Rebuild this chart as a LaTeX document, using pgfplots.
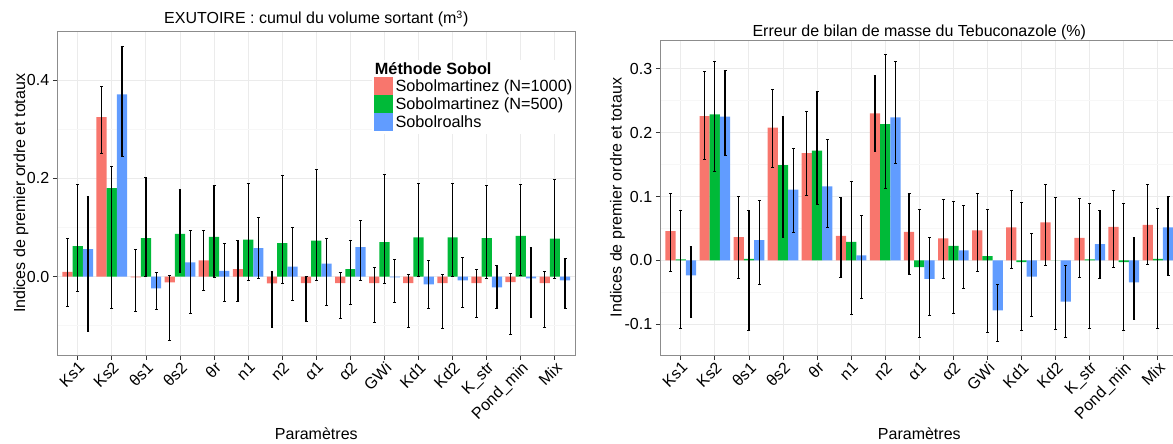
\documentclass[border=0pt]{standalone}
\usepackage{fontspec}
\setmainfont{Liberation Sans}
\usepackage{pgfplots}
\usepackage{pgfplotstable}
\pgfplotsset{compat=1.18}
\definecolor{cR}{HTML}{F8766D}
\definecolor{cG}{HTML}{00BA38}
\definecolor{cB}{HTML}{619CFF}
\definecolor{gmaj}{HTML}{EBEBEB}
\definecolor{gmin}{HTML}{F7F7F7}
\definecolor{gborder}{HTML}{8C8C8C}
\definecolor{gtick}{HTML}{333333}

\pgfplotstableread{
x v lo hi
1 0.0095 -0.061 0.077
2 0.325 0.250 0.388
3 -0.002 -0.071 0.056
4 -0.012 -0.131 0.003
5 0.033 -0.028 0.094
6 0.015 -0.051 0.073
7 -0.014 -0.104 0.011
8 -0.0135 -0.092 0.001
9 -0.0135 -0.085 0.008
10 -0.0135 -0.093 0.019
11 -0.0135 -0.104 0.005
12 -0.0135 -0.105 0.005
13 -0.0135 -0.083 0.0135
14 -0.0115 -0.117 0.006
15 -0.0135 -0.103 0.011
}\LR
\pgfplotstableread{
x v lo hi
1 0.062 -0.031 0.187
2 0.180 -0.066 0.225
3 0.078 0.000 0.203
4 0.087 0.009 0.178
5 0.081 -0.002 0.186
6 0.075 -0.0075 0.190
7 0.068 -0.015 0.207
8 0.073 -0.0075 0.218
9 0.015 -0.057 0.073
10 0.070 -0.015 0.208
11 0.080 0.000 0.190
12 0.080 0.000 0.190
13 0.078 -0.003 0.185
14 0.083 0.003 0.188
15 0.077 -0.003 0.198
}\LG
\pgfplotstableread{
x v lo hi
1 0.056 -0.111 0.163
2 0.371 0.245 0.470
3 -0.024 -0.067 0.009
4 0.029 -0.075 0.094
5 0.0115 -0.051 0.068
6 0.058 -0.004 0.121
7 0.020 -0.048 0.101
8 0.026 -0.058 0.077
9 0.060 -0.0075 0.115
10 -0.002 -0.052 0.034
11 -0.016 -0.065 0.033
12 -0.008 -0.062 0.039
13 -0.022 -0.066 0.023
14 -0.004 -0.083 0.059
15 -0.008 -0.064 0.036
}\LB
\pgfplotstableread{
x v lo hi
1 0.0458 -0.0177 0.105
2 0.226 0.158 0.296
3 0.0365 -0.0286 0.100
4 0.208 0.145 0.268
5 0.168 0.1016 0.234
6 0.0385 -0.026 0.099
7 0.230 0.171 0.290
8 0.0448 -0.0214 0.1047
9 0.0344 -0.028 0.0958
10 0.0469 -0.0177 0.1047
11 0.0516 -0.012 0.110
12 0.0594 -0.0073 0.119
13 0.0354 -0.026 0.0964
14 0.0526 -0.0115 0.110
15 0.0557 -0.006 0.119
}\RR
\pgfplotstableread{
x v lo hi
1 0.0016 -0.107 0.079
2 0.2286 0.139 0.311
3 0.0026 -0.110 0.078
4 0.149 0.0354 0.2255
5 0.172 0.0875 0.264
6 0.029 -0.085 0.123
7 0.2135 0.113 0.322
8 -0.0104 -0.121 0.080
9 0.0229 -0.083 0.092
10 0.0068 -0.1125 0.080
11 -0.0026 -0.109 0.0906
12 0.0 -0.108 0.099
13 0.0016 -0.1057 0.089
14 -0.0026 -0.110 0.089
15 0.0026 -0.107 0.0818
}\RG
\pgfplotstableread{
x v lo hi
1 -0.0234 -0.0896 0.0219
2 0.225 0.165 0.298
3 0.0318 -0.038 0.094
4 0.111 0.0432 0.176
5 0.116 0.0516 0.190
6 0.0078 -0.059 0.071
7 0.224 0.1516 0.311
8 -0.029 -0.086 0.0365
9 0.0156 -0.043 0.0854
10 -0.078 -0.1266 -0.037
11 -0.0255 -0.0875 0.042
12 -0.0646 -0.121 -0.0073
13 0.0255 -0.0286 0.0786
14 -0.0344 -0.092 0.0365
15 0.0516 -0.024 0.100
}\RB

\pgfplotsset{
  sobol/.style={
    scale only axis, anchor=south west, width=388.5pt,
    font=\fontsize{12}{14}\selectfont,
    xmin=0.4, xmax=15.6,
    xtick={1,...,15},
    xticklabels={Ks1,Ks2,θs1,θs2,θr,n1,n2,α1,α2,GWi,Kd1,Kd2,K\_str,Pond\_min,Mix},
    xtick pos=lower, ytick pos=left,
    tick align=outside, major tick length=3.4pt, minor tick length=0pt,
    tick style={gtick, line width=0.6pt},
    axis line style={gborder, line width=0.7pt},
    grid=both,
    major grid style={gmaj, line width=0.7pt},
    minor grid style={gmin, line width=0.7pt},
    xticklabel style={rotate=45, anchor=north east, inner sep=0pt, yshift=-0.53pt, xshift=-0.53pt},
    yticklabel style={anchor=east, inner sep=0pt, xshift=-2.5pt},
    every axis title/.style={at={(axis description cs:0.5,1)}, anchor=base},
    every axis x label/.style={at={(axis description cs:0.5,0)}, anchor=base, yshift=-63pt},
    xlabel={Paramètres},
    ylabel={Indices de premier ordre et totaux},
    clip=true,
  },
  ser/.style n args={2}{ybar, bar width=0.3, bar shift=0pt, fill=#1, draw=none,
    legend image code/.code={\fill[#1] (0pt,-2.55pt) rectangle (13.7pt,11.15pt);},
    error bars/.cd, y dir=both, y explicit,
    error bar style={black, line width=0.9pt},
    error mark options={rotate=90, black, line width=0.6pt, mark size=1.1pt}},
}

\begin{document}
\begin{tikzpicture}
\useasboundingbox (0,0) rectangle (879.75pt,332.25pt);
% left panel
\begin{axis}[sobol, at={(42.975pt,66pt)}, height=242.475pt,
  ymin=-0.160, ymax=0.499,
  ytick={0,0.2,0.4}, yticklabels={0.0,0.2,0.4},
  minor ytick={-0.1,0.1,0.3},
  title={EXUTOIRE : cumul du volume sortant (m\textsuperscript{3})},
  title style={yshift=5.8pt},
  every axis y label/.style={at={(axis description cs:0,0.5)}, xshift=-24.2pt, rotate=90, anchor=base},
  legend style={at={(axis description cs:0.6062,0.9134)}, anchor=north west,
    draw=none, fill=white, inner sep=2pt, row sep=0pt, column sep=2.25pt,
    nodes={inner sep=0pt, anchor=base west}, font=\fontsize{12.2}{14}\selectfont},
  legend cell align=left,
]
\addlegendimage{empty legend}
\addlegendentry{\makebox[0pt][l]{\hspace*{-15.95pt}\textbf{Méthode Sobol}\rule[-4.1pt]{0pt}{0pt}}}
\addplot[ser={cR}{}] table[x expr=\thisrow{x}-0.3, y=v, y error plus expr=\thisrow{hi}-\thisrow{v}, y error minus expr=\thisrow{v}-\thisrow{lo}] {\LR};
\addlegendentry{Sobolmartinez (N=1000)}
\addplot[ser={cG}{}] table[x expr=\thisrow{x}, y=v, y error plus expr=\thisrow{hi}-\thisrow{v}, y error minus expr=\thisrow{v}-\thisrow{lo}] {\LG};
\addlegendentry{Sobolmartinez (N=500)}
\addplot[ser={cB}{}] table[x expr=\thisrow{x}+0.3, y=v, y error plus expr=\thisrow{hi}-\thisrow{v}, y error minus expr=\thisrow{v}-\thisrow{lo}] {\LB};
\addlegendentry{Sobolroalhs}
\end{axis}
% right panel
\begin{axis}[sobol, at={(495.225pt,66pt)}, height=236.25pt,
  ymin=-0.148, ymax=0.345,
  ytick={-0.1,0,0.1,0.2,0.3}, yticklabels={-0.1,0.0,0.1,0.2,0.3},
  minor ytick={-0.05,0.05,0.15,0.25},
  title={Erreur de bilan de masse du Tebuconazole (\%)},
  title style={yshift=2.7pt},
  every axis y label/.style={at={(axis description cs:0,0.5)}, xshift=-29pt, rotate=90, anchor=base},
]
\addplot[ser={cR}{}] table[x expr=\thisrow{x}-0.3, y=v, y error plus expr=\thisrow{hi}-\thisrow{v}, y error minus expr=\thisrow{v}-\thisrow{lo}] {\RR};
\addplot[ser={cG}{}] table[x expr=\thisrow{x}, y=v, y error plus expr=\thisrow{hi}-\thisrow{v}, y error minus expr=\thisrow{v}-\thisrow{lo}] {\RG};
\addplot[ser={cB}{}] table[x expr=\thisrow{x}+0.3, y=v, y error plus expr=\thisrow{hi}-\thisrow{v}, y error minus expr=\thisrow{v}-\thisrow{lo}] {\RB};
\end{axis}
\end{tikzpicture}
\end{document}
